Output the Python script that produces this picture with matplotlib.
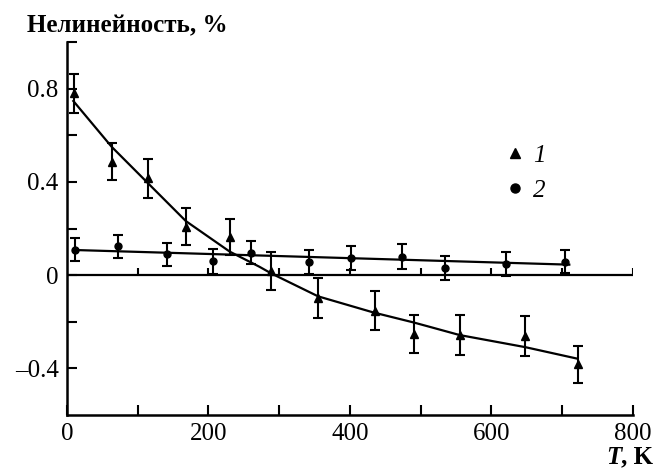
import matplotlib.pyplot as plt
from matplotlib.lines import Line2D

# series 1 (triangles): nonlinearity, %, vs temperature T, K
T1 = [10, 63, 114, 168, 230, 288, 355, 435, 491, 555, 647, 723]
N1 = [0.78, 0.486, 0.415, 0.208, 0.163, 0.018, -0.099, -0.152, -0.253, -0.257, -0.26, -0.383]
E1 = [0.083, 0.08, 0.082, 0.078, 0.076, 0.083, 0.085, 0.083, 0.082, 0.084, 0.085, 0.078]

# series 2 (circles)
T2 = [11, 72, 142, 207, 260, 342, 401, 474, 535, 620, 704]
N2 = [0.109, 0.123, 0.09, 0.06, 0.097, 0.058, 0.074, 0.079, 0.03, 0.048, 0.058]
E2 = [0.05, 0.05, 0.05, 0.053, 0.05, 0.051, 0.052, 0.054, 0.052, 0.05, 0.05]

# fitted curves
FIT1_T = [9, 63, 113, 168, 230, 272, 289, 355, 433, 490, 513, 555, 648, 721]
FIT1_N = [0.747, 0.551, 0.399, 0.232, 0.101, 0.036, 0.007, -0.091, -0.16, -0.203,
          -0.222, -0.257, -0.309, -0.358]
FIT2_T = [9, 710]
FIT2_N = [0.108, 0.045]

XTICKS = [0, 200, 400, 600, 800]
XMINOR = [100, 300, 500, 700]
YTICKS = [-0.4, 0, 0.4, 0.8]
YLABELS = ['\u20130.4', '0', '0.4', '0.8']
YMINOR = [-0.2, 0.2, 0.6, 1.0]

SERIF = 'Liberation Serif'
FS = 18

fig = plt.figure(figsize=(6.56, 4.69), dpi=100)
ax = fig.add_axes([0.1021, 0.1151, 0.8628, 0.7953])

ax.plot(FIT1_T, FIT1_N, color='black', lw=1.6)
ax.plot(FIT2_T, FIT2_N, color='black', lw=1.6)
ax.errorbar(T1, N1, yerr=E1, fmt='^', color='black', ms=6, elinewidth=1.5,
            capsize=3.5, capthick=1.5)
ax.errorbar(T2, N2, yerr=E2, fmt='o', color='black', ms=5, elinewidth=1.5,
            capsize=3.5, capthick=1.5)

# zero line with its own small upward ticks
ax.axhline(0, color='black', lw=1.6)
ax.vlines(XMINOR + XTICKS[1:], 0, 0.03, color='black', lw=1.5)

ax.set_xlim(0, 800)
ax.set_ylim(-0.6, 1.0)
for s in ['top', 'right']:
    ax.spines[s].set_visible(False)
for s in ['left', 'bottom']:
    ax.spines[s].set_linewidth(1.8)

ax.set_xticks(XTICKS, labels=[str(v) for v in XTICKS])
ax.set_xticks(XMINOR, minor=True)
ax.set_yticks(YTICKS, labels=YLABELS)
ax.set_yticks(YMINOR, minor=True)
ax.tick_params(which='both', direction='in', length=7, width=1.5)
ax.tick_params(axis='x', pad=6)
ax.tick_params(axis='y', pad=6)
for lab in ax.get_xticklabels() + ax.get_yticklabels():
    lab.set_family(SERIF)
    lab.set_fontsize(FS)

handles = [Line2D([], [], ls='none', marker='^', color='black', ms=7.5),
           Line2D([], [], ls='none', marker='o', color='black', ms=6.5)]
ax.legend(handles, ['1', '2'], loc='center left', bbox_to_anchor=(0.738, 0.648),
          frameon=False, handlelength=0.6, handletextpad=0.45, labelspacing=0.5,
          prop={'family': SERIF, 'style': 'italic', 'size': FS})

fig.text(27 / 656, 1 - 26 / 469, 'Нелинейность, %', family=SERIF,
         weight='bold', fontsize=FS, ha='left', va='center')

unit = fig.text(0.996, 1 - 457 / 469, ', K', family=SERIF, weight='bold',
                fontsize=FS, ha='right', va='center')
ax.annotate('T', xy=(0, 0.5), xycoords=unit, family=SERIF, weight='bold',
            style='italic', fontsize=FS, ha='right', va='center')

fig.savefig('out.png', dpi=100)
